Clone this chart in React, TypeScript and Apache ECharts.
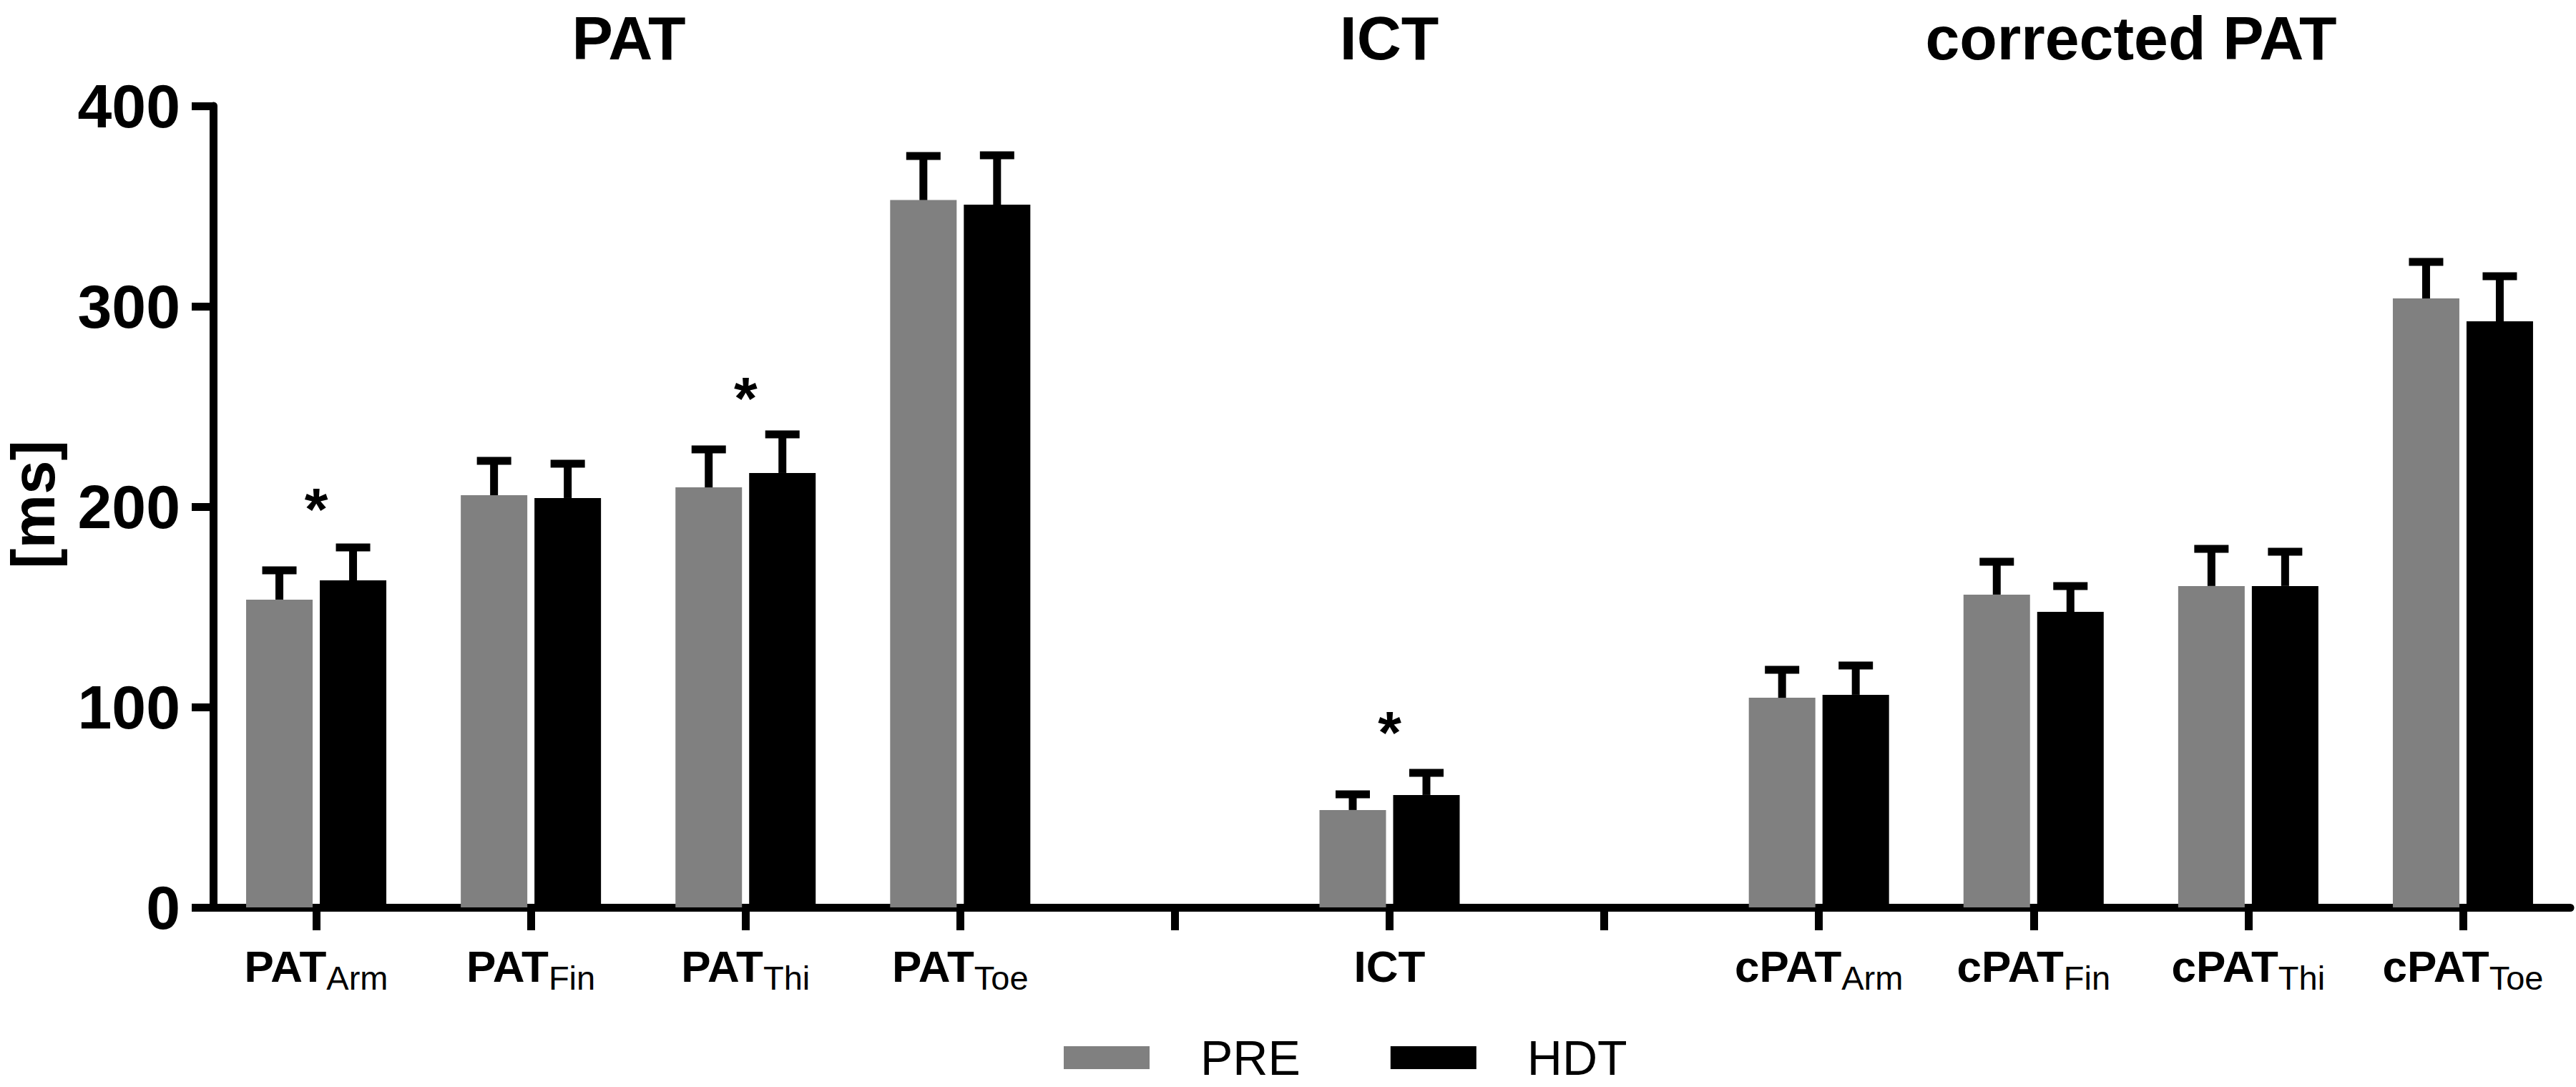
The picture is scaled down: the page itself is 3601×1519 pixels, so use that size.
import React, { useEffect, useRef } from "react";
import * as echarts from "echarts";

const categories = ["PAT_Arm", "PAT_Fin", "PAT_Thi", "PAT_Toe", "", "ICT", " ", "cPAT_Arm", "cPAT_Fin", "cPAT_Thi", "cPAT_Toe"];
const preMean = [153.6, 205.7, 209.6, 353.0, null, 48.6, null, 104.6, 156.1, 160.4, 303.9];
const preErr = [14.6, 17.2, 19.0, 22.0, null, 7.8, null, 14.0, 16.4, 18.5, 18.2];
const hdtMean = [163.2, 204.3, 216.8, 350.7, null, 56.1, null, 106.1, 147.5, 160.4, 292.5];
const hdtErr = [16.4, 17.1, 19.3, 24.7, null, 11.0, null, 14.6, 12.9, 17.1, 22.5];
const sigCategory = ["PAT_Arm", "PAT_Thi", "ICT"];
const sigY = [198.5, 254.0, 87.0];
const groupTitles = ["PAT", "ICT", "corrected PAT"];
const yTicks = [0, 100, 200, 300, 400];
const seriesNames = ["PRE", "HDT"];

const FONT = "'Liberation Sans', Arial, Helvetica, sans-serif";
const BAR_W = 93;
const BAR_GAP = 10;

function errorSeries(means: (number | null)[], errs: (number | null)[], side: number) {
  const data: number[][] = [];
  means.forEach((m, i) => {
    if (m != null && errs[i] != null) data.push([i, m, errs[i] as number]);
  });
  const off = side * (BAR_W + BAR_GAP) / 2;
  return {
    type: "custom",
    z: 5,
    data,
    encode: { x: 0, y: 1 },
    renderItem: (params: any, api: any) => {
      const idx = api.value(0);
      const mean = api.value(1);
      const err = api.value(2);
      const base = api.coord([idx, mean]);
      const hi = api.coord([idx, mean + err]);
      const cx = base[0] + off;
      return {
        type: "group",
        children: [
          { type: "rect", shape: { x: cx - 5.5, y: hi[1], width: 11, height: base[1] - hi[1] }, style: { fill: "#000" } },
          { type: "rect", shape: { x: cx - 24, y: hi[1] - 5.5, width: 48, height: 11 }, style: { fill: "#000" } },
        ],
      };
    },
  };
}

export default function App() {
  const ref = useRef<HTMLDivElement>(null);
  useEffect(() => {
    if (!ref.current) return;
    const chart = echarts.init(ref.current, null, { renderer: "svg" });
    const titleX = [879, 1942, 2979];
    chart.setOption({
      animation: false,
      backgroundColor: "#fff",
      textStyle: { fontFamily: FONT },
      grid: { left: 292, right: 8, top: 148, bottom: 251, containLabel: false, outerBoundsMode: "none" },
      legend: {
        data: seriesNames,
        left: 1487,
        top: 1444,
        padding: 0,
        icon: "rect",
        itemWidth: 120,
        itemHeight: 32,
        itemGap: 126,
        selectedMode: false,
        formatter: (n: string) => `{t|${n}}`,
        textStyle: {
          color: "#000",
          fontFamily: FONT,
          fontSize: 68,
          rich: { t: { fontSize: 68, fontFamily: FONT, color: "#000", padding: [0, 0, 0, 66], lineHeight: 80 } },
        },
      },
      xAxis: {
        type: "category",
        data: categories,
        boundaryGap: true,
        axisLine: { show: true, lineStyle: { color: "#000", width: 11 } },
        axisTick: { show: true, alignWithLabel: true, length: 32, lineStyle: { color: "#000", width: 11 } },
        axisLabel: {
          interval: 0,
          margin: 42,
          formatter: (v: string) => {
            if (!v.trim()) return "";
            if (v.includes("_")) {
              const [m, s] = v.split("_");
              return `{m|${m}}{s|${s}}`;
            }
            return `{m|${v}}`;
          },
          rich: {
            m: { fontSize: 62, fontWeight: "bold", color: "#000", fontFamily: FONT, lineHeight: 80, verticalAlign: "middle" },
            s: { fontSize: 47, fontWeight: "normal", color: "#000", fontFamily: FONT, lineHeight: 46, verticalAlign: "bottom" },
          },
        },
        splitLine: { show: false },
      },
      yAxis: {
        type: "value",
        min: 0,
        max: 400,
        interval: 100,
        offset: -6,
        axisLine: { show: true, lineStyle: { color: "#000", width: 11 } },
        axisTick: { show: true, length: 30, lineStyle: { color: "#000", width: 11 } },
        axisLabel: {
          margin: 46,
          fontSize: 86,
          fontWeight: "bold",
          color: "#000",
          fontFamily: FONT,
          formatter: (v: number) => (yTicks.includes(v) ? String(v) : ""),
        },
        splitLine: { show: false },
      },
      graphic: [
        ...groupTitles.map((t, i) => ({
          type: "text",
          x: titleX[i],
          y: 10,
          style: { text: t, fontSize: 86, fontWeight: "bold", fontFamily: FONT, fill: "#000", align: "center", verticalAlign: "top" },
        })),
        {
          type: "text",
          x: 46,
          y: 705,
          rotation: Math.PI / 2,
          style: { text: "[ms]", fontSize: 85, fontWeight: "bold", fontFamily: FONT, fill: "#000", align: "center", verticalAlign: "middle" },
        },
      ],
      series: [
        {
          name: seriesNames[0],
          type: "bar",
          data: preMean,
          barWidth: BAR_W,
          barGap: `${(BAR_GAP / BAR_W) * 100}%`,
          itemStyle: { color: "#808080" },
        },
        {
          name: seriesNames[1],
          type: "bar",
          data: hdtMean,
          barWidth: BAR_W,
          barGap: `${(BAR_GAP / BAR_W) * 100}%`,
          itemStyle: { color: "#000000" },
        },
        errorSeries(preMean, preErr, -1),
        errorSeries(hdtMean, hdtErr, 1),
        {
          type: "scatter",
          symbolSize: 0,
          z: 6,
          silent: true,
          data: sigCategory.map((c, i) => [c, sigY[i]]),
          itemStyle: { color: "#000", opacity: 1 },
          label: {
            show: true,
            position: "inside",
            formatter: "*",
            fontSize: 84,
            fontWeight: "bold",
            fontFamily: FONT,
            color: "#000",
            opacity: 1,
          },
        },
      ],
    });
    return () => chart.dispose();
  }, []);
  return (
    <div
      ref={ref}
      style={{ position: "fixed", left: 0, top: 0, width: 3601, height: 1519, background: "#fff" }}
    />
  );
}
